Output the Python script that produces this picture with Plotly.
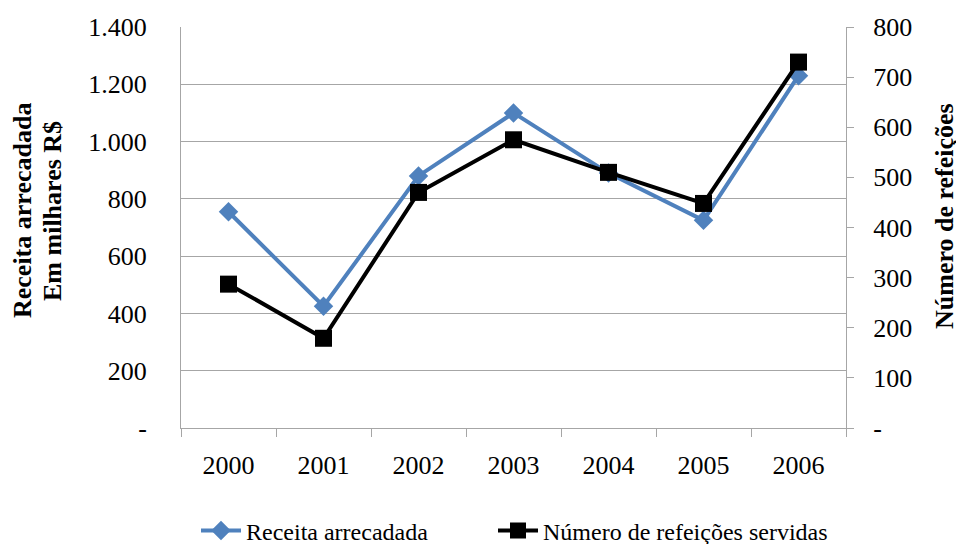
import plotly.graph_objects as go

years = ["2000", "2001", "2002", "2003", "2004", "2005", "2006"]
receita = [755, 425, 880, 1100, 890, 725, 1230]
refeicoes = [287, 179, 470, 575, 510, 448, 730]

left_ticks = [0, 200, 400, 600, 800, 1000, 1200, 1400]
left_text = ["-", "200", "400", "600", "800", "1.000", "1.200", "1.400"]
right_ticks = [0, 100, 200, 300, 400, 500, 600, 700, 800]
right_text = ["-", "100", "200", "300", "400", "500", "600", "700", "800"]

FONT = "Liberation Serif, Times New Roman, serif"
GRID = "#A6A6A6"
# page body has an 8px margin: figure pixel = window pixel - 8
W, H = 964, 544
L, T = 173, 19
R = W - 838
B = H - 420

fig = go.Figure()
fig.add_trace(go.Scatter(
    x=years, y=receita, name="Receita arrecadada", mode="lines+markers",
    line=dict(color="#4F81BD", width=4),
    marker=dict(symbol="diamond", size=15, color="#4F81BD"),
    yaxis="y", legend="legend",
))
fig.add_trace(go.Scatter(
    x=years, y=refeicoes, name="Número de refeições servidas", mode="lines+markers",
    line=dict(color="#000000", width=4),
    marker=dict(symbol="square", size=17, color="#000000"),
    yaxis="y2", legend="legend2",
))

def px_to_paper(xp, yp):
    return (xp - L) / (W - L - R), (H - B - yp) / (H - T - B)

anns = []
for txt, xp, yp in [("<b>Receita arrecadada</b>", 15, 203),
                    ("<b>Em milhares R$</b>", 45, 203),
                    ("<b>Número de refeições</b>", 937, 208)]:
    xpp, ypp = px_to_paper(xp, yp)
    anns.append(dict(text=txt, textangle=-90, xref="paper", yref="paper",
                     x=xpp, y=ypp, xanchor="center", yanchor="middle",
                     showarrow=False, font=dict(size=26, family=FONT, color="black")))

l1x, ly = px_to_paper(188, 523)
l2x, _ = px_to_paper(485, 523)

legend_common = dict(orientation="h", xanchor="left", y=ly, yanchor="middle",
                     font=dict(family=FONT, size=24, color="black"),
                     itemwidth=40, bgcolor="rgba(0,0,0,0)")

fig.update_layout(
    width=W, height=H,
    margin=dict(l=L, r=R, t=T, b=B, autoexpand=False),
    paper_bgcolor="white", plot_bgcolor="white",
    font=dict(family=FONT, size=26, color="black"),
    showlegend=True,
    legend=dict(x=l1x, **legend_common),
    legend2=dict(x=l2x, **legend_common),
    xaxis=dict(
        type="category", showline=True, linecolor=GRID, linewidth=1,
        ticks="outside", tickson="boundaries", ticklen=8, tickcolor=GRID,
        showgrid=False, tickfont=dict(size=26), ticklabelstandoff=14,
        range=[-0.5, 6.5],
    ),
    yaxis=dict(
        range=[0, 1400], tickvals=left_ticks, ticktext=left_text,
        showgrid=True, gridcolor=GRID, gridwidth=1,
        showline=True, linecolor=GRID, linewidth=1,
        ticks="", tickfont=dict(size=26), ticklabelstandoff=28,
        zeroline=False,
    ),
    yaxis2=dict(
        range=[0, 800], tickvals=right_ticks, ticktext=right_text,
        overlaying="y", side="right", showgrid=False,
        showline=True, linecolor=GRID, linewidth=1,
        ticks="outside", ticklen=7, tickcolor=GRID,
        tickfont=dict(size=26), ticklabelstandoff=14, zeroline=False,
    ),
    annotations=anns,
)

fig.write_html("out.html")
